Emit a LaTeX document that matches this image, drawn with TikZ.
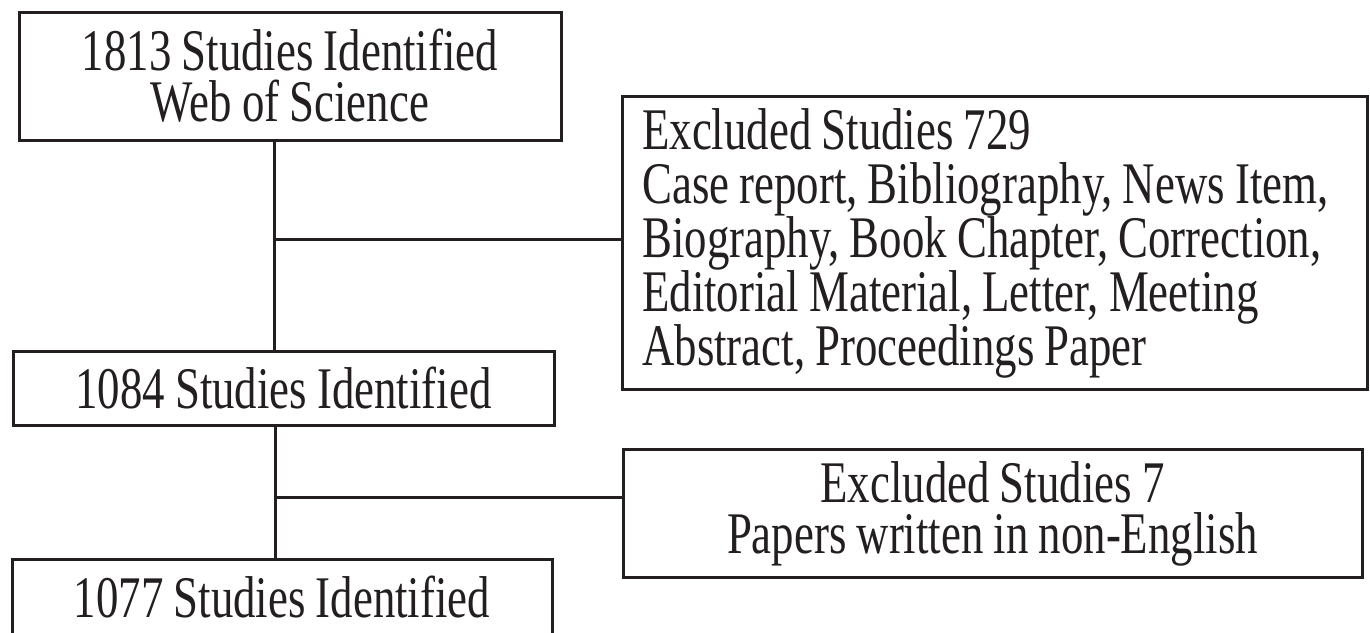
\documentclass[tikz,border=0pt]{standalone}
\usepackage{fontspec}
\setmainfont[FakeStretch=0.76, WordSpace={0.9,0,0}]{Liberation Serif}
\definecolor{ink}{HTML}{231F20}
\newcommand{\bodyfont}[1]{\fontsize{59}{#1}\selectfont\lineskiplimit=-100pt\lineskip=0pt}
\begin{document}
\begin{tikzpicture}[x=1pt,y=-1pt,
  txt/.style={text=ink, inner sep=0pt, font={\bodyfont{54}}},
  box/.style={draw=ink, line width=3pt, txt, align=center},
  frame/.style={draw=ink, line width=3pt, inner sep=0pt},
  link/.style={draw=ink, line width=3pt}]
\useasboundingbox (0,0) rectangle (1370,632);
\clip (0,0) rectangle (1370,632);
\fill[white] (0,0) rectangle (1370,632);
\node[box, minimum width=542pt, minimum height=128pt, font={\bodyfont{51}}] (b1) at (290,76)
  {1813 Studies Identified\\Web of Science};
\node[box, minimum width=541pt, minimum height=74pt] (b2) at (283.5,388)
  {1084 Studies Identified};
\node[box, minimum width=540pt, minimum height=76pt] (b3) at (282,597)
  {1077 Studies Identified};
% excluded boxes
\node[frame, minimum width=745pt, minimum height=293pt] (e1) at (994.5,242.5) {};
\node[txt, anchor=north west, align=left] (e1t) at (642,108)
  {Excluded Studies 729\\Case report, Bibliography, News Item,\\Biography, Book Chapter, Correction,\\Editorial Material, Letter, Meeting\\Abstract, Proceedings Paper};
\node[frame, minimum width=739pt, minimum height=128pt] (e2) at (992.5,513) {};
\node[txt, anchor=north, align=center, font={\bodyfont{51}}] (e2t) at (992.5,461)
  {Excluded Studies 7\\Papers written in non-English};
% connectors
\coordinate (j1) at (274,239);
\coordinate (j2) at (275,497);
\draw[link] (b1.south -| j1) -- (b2.north -| j1);
\draw[link] (j1) -- (j1 -| e1.west);
\draw[link] (b2.south -| j2) -- (b3.north -| j2);
\draw[link] (j2) -- (j2 -| e2.west);
\end{tikzpicture}
\end{document}
